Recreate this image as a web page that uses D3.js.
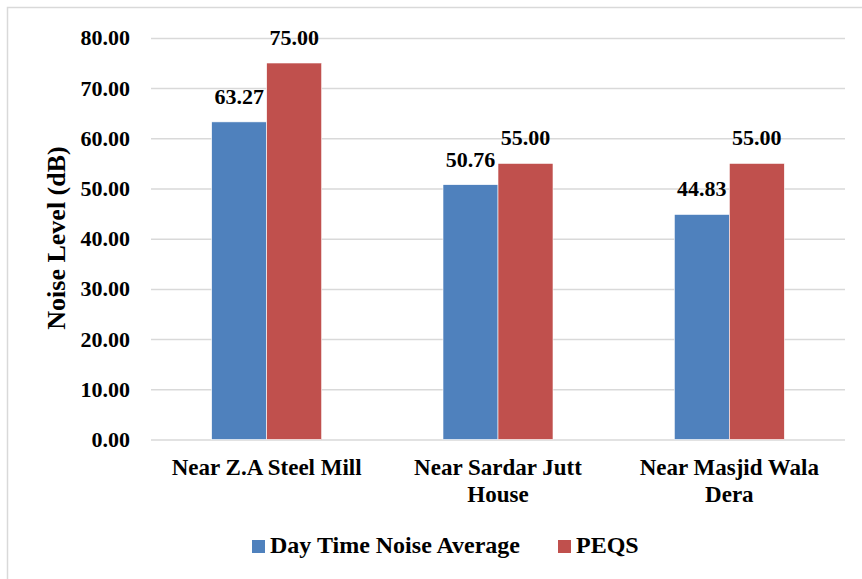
<!DOCTYPE html>
<html>
<head>
<meta charset="utf-8">
<script src="https://cdn.jsdelivr.net/npm/d3@7"></script>
<style>
  html, body { margin: 0; padding: 0; background: #fff; }
  svg { display: block; }
  text { font-weight: bold; fill: #000; }
</style>
</head>
<body>
<svg id="chart" width="862" height="579"></svg>
<script>
// Sites and their label lines
const categories = ["Near Z.A Steel Mill", "Near Sardar Jutt House", "Near Masjid Wala Dera"];
const categoryLines = [["Near Z.A Steel Mill"], ["Near Sardar Jutt", "House"], ["Near Masjid Wala", "Dera"]];
const seriesNames = ["Day Time Noise Average", "PEQS"];
const dayTimeNoise = [63.27, 50.76, 44.83];
const peqs = [75.00, 55.00, 55.00];
const yTicks = [0, 10, 20, 30, 40, 50, 60, 70, 80];
const colors = ["#4f81bd", "#c0504d"];

const FONT = "'Liberation Serif', 'Times New Roman', Tinos, 'DejaVu Serif', serif";

const svg = d3.select("#chart");

// Chart frame
svg.append("rect")
  .attr("x", 7.5).attr("y", 7.5)
  .attr("width", 870).attr("height", 590)
  .attr("fill", "#fff")
  .attr("stroke", "#d9d9d9").attr("stroke-width", 1.5);

const plot = { left: 151, right: 845, top: 37.9, bottom: 439.5 };

const y = d3.scaleLinear().domain([0, 80]).range([plot.bottom, plot.top]);
const x = d3.scaleBand().domain(categories).range([plot.left, plot.right]).padding(0);
const bw = x.bandwidth();
const groupW = 110;
const xs = d3.scaleBand().domain(seriesNames)
  .range([(bw - groupW) / 2, (bw + groupW) / 2]).padding(0);

// Gridlines and y axis labels
const yAxis = d3.axisLeft(y)
  .tickValues(yTicks)
  .tickFormat(d3.format(".2f"))
  .tickSize(-(plot.right - plot.left))
  .tickPadding(21);
const yg = svg.append("g").attr("transform", `translate(${plot.left},0)`).call(yAxis);
yg.attr("font-family", null).attr("font-size", null);
yg.select(".domain").remove();
yg.selectAll(".tick line").attr("stroke", "#d9d9d9").attr("stroke-width", 1.5);
yg.selectAll(".tick text")
  .attr("font-size", 22)
  .attr("font-family", FONT)
  .attr("font-weight", "bold")
  .attr("fill", "#000");

// Bars
const rows = categories.map((c, i) => ({ cat: c, values: [dayTimeNoise[i], peqs[i]] }));
const groups = svg.append("g").selectAll("g")
  .data(rows).join("g")
  .attr("transform", d => `translate(${x(d.cat)},0)`);

groups.selectAll("rect")
  .data(d => d.values.map((v, j) => ({ name: seriesNames[j], v, j })))
  .join("rect")
  .attr("x", d => xs(d.name))
  .attr("y", d => y(d.v))
  .attr("width", xs.bandwidth())
  .attr("height", d => y(0) - y(d.v))
  .attr("fill", d => colors[d.j])
  .attr("stroke", "#fff").attr("stroke-width", 0.6);

// Value labels
groups.selectAll("text.val")
  .data(d => d.values.map((v, j) => ({ name: seriesNames[j], v, j })))
  .join("text")
  .attr("class", "val")
  .attr("x", d => xs(d.name) + xs.bandwidth() / 2)
  .attr("y", d => y(d.v) - 18)
  .attr("text-anchor", "middle")
  .attr("font-family", FONT)
  .attr("font-size", 22)
  .text(d => d3.format(".2f")(d.v));

// Category labels
const xl = svg.append("g");
categories.forEach((c, i) => {
  const t = xl.append("text")
    .attr("x", x(c) + bw / 2)
    .attr("y", 475)
    .attr("text-anchor", "middle")
    .attr("font-family", FONT)
    .attr("font-size", 23);
  categoryLines[i].forEach((line, k) => {
    t.append("tspan").attr("x", x(c) + bw / 2).attr("dy", k === 0 ? 0 : 27).text(line);
  });
});

// Y axis title
svg.append("text")
  .attr("transform", `translate(65,238) rotate(-90)`)
  .attr("text-anchor", "middle")
  .attr("font-family", FONT)
  .attr("font-size", 26)
  .text("Noise Level (dB)");

// Legend
const legendItems = [{ name: seriesNames[0], x: 252 }, { name: seriesNames[1], x: 558 }];
const lg = svg.append("g");
legendItems.forEach((d, i) => {
  lg.append("rect").attr("x", d.x).attr("y", 540).attr("width", 13).attr("height", 13).attr("fill", colors[i]);
  lg.append("text").attr("x", d.x + 18).attr("y", 553)
    .attr("font-family", FONT).attr("font-size", 24).text(d.name);
});
</script>
</body>
</html>
